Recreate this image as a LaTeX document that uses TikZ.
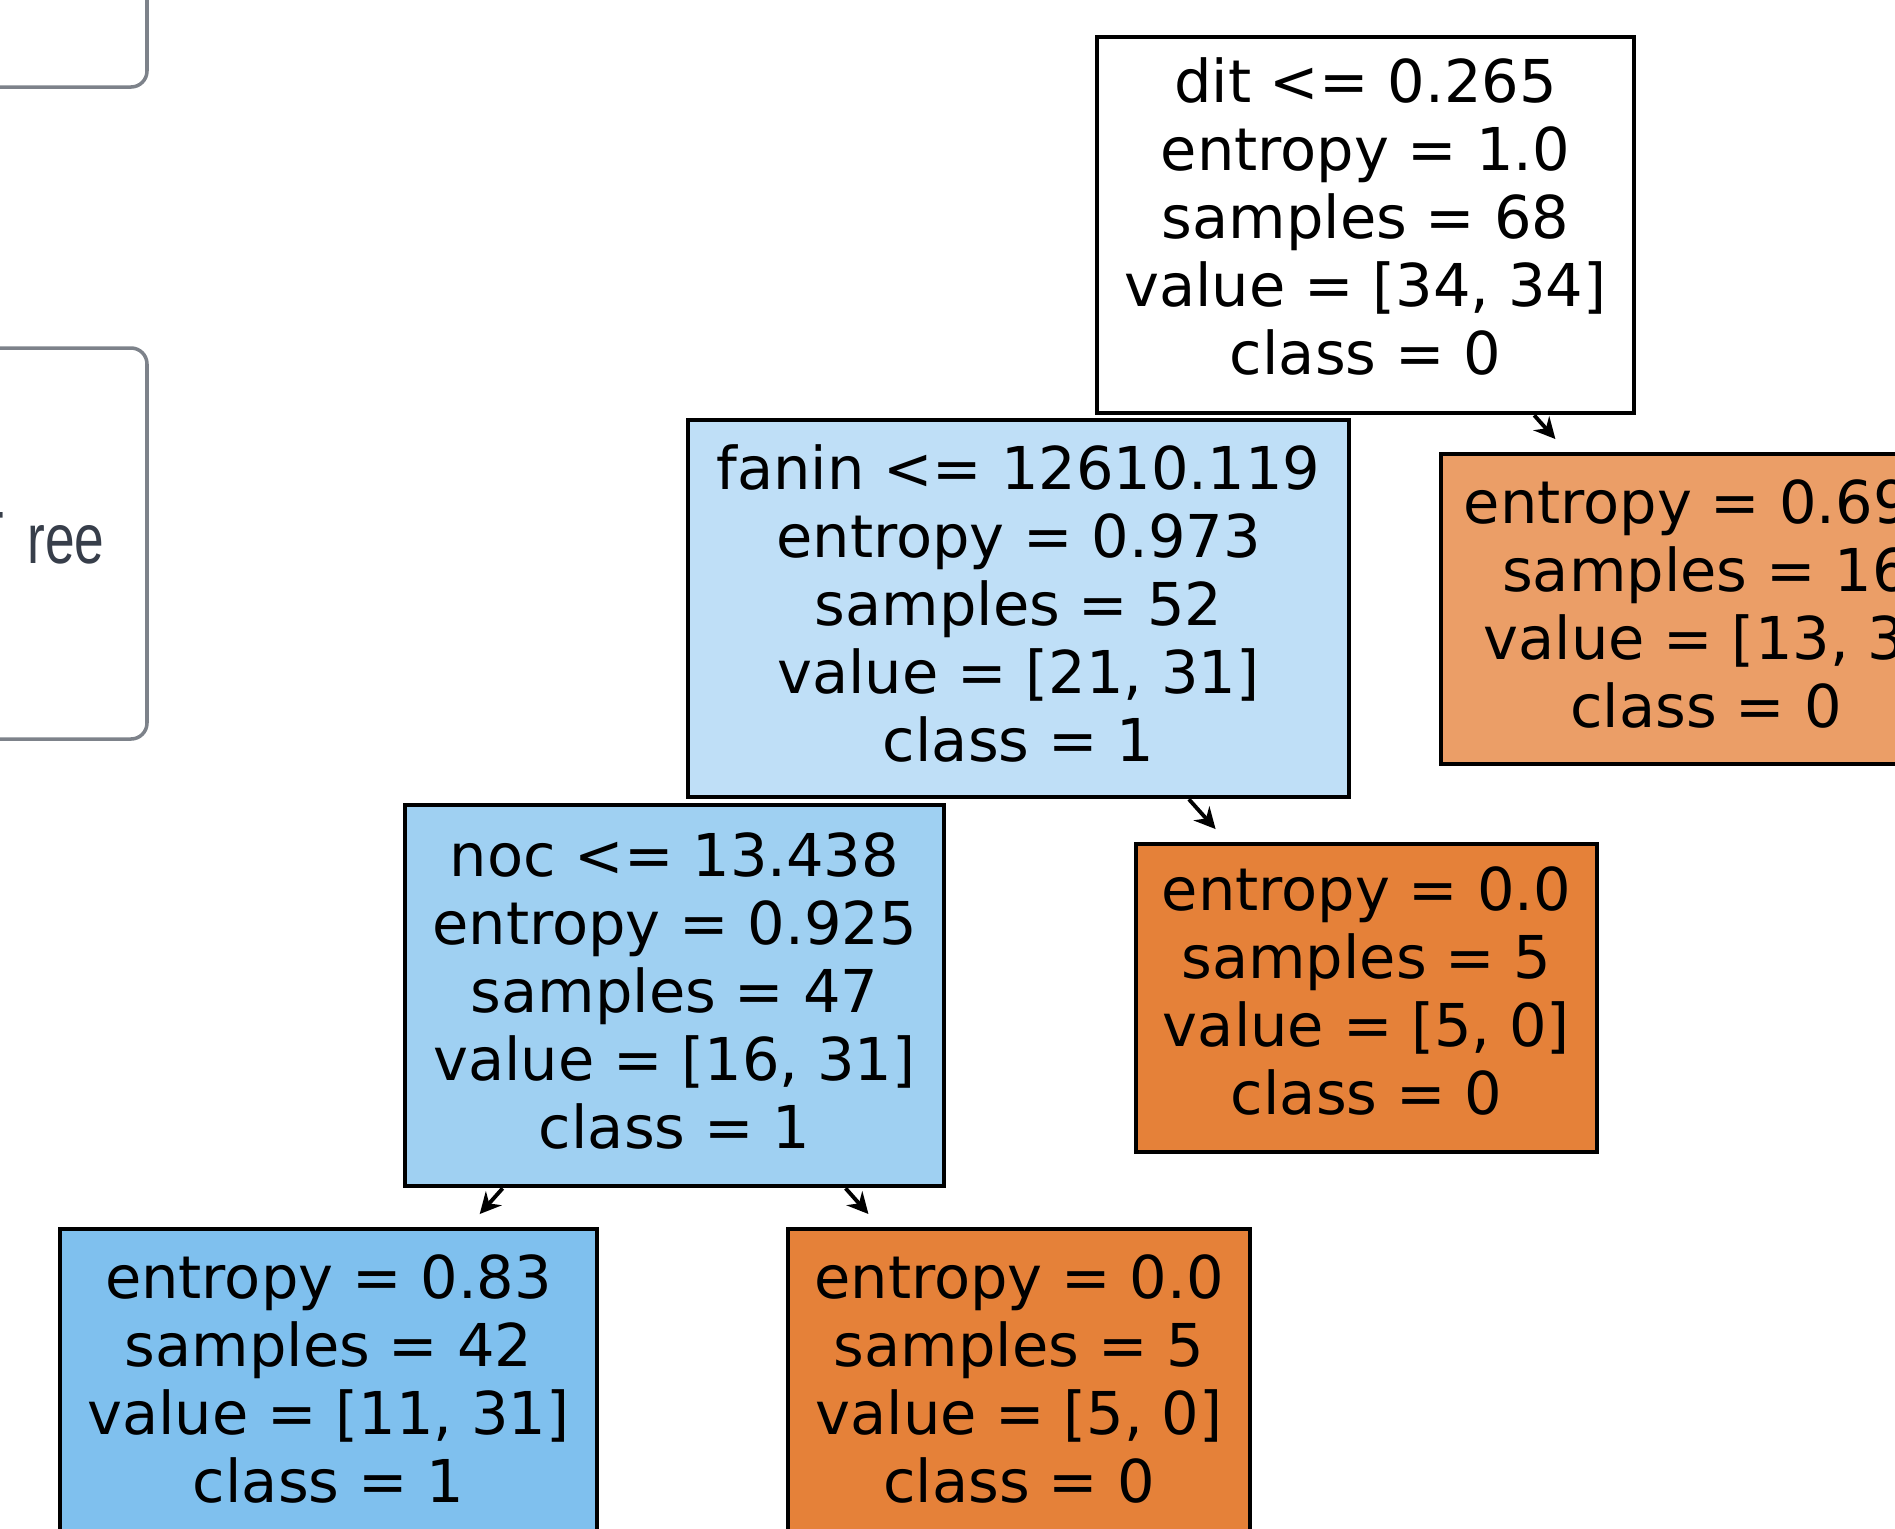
\documentclass[tikz,border=0pt]{standalone}
\usepackage{fontspec}
\usepackage{xcolor}
\usepackage{graphicx}
\usepackage{tikz}
\usetikzlibrary{arrows.meta}

\newfontfamily\treefont{DejaVu Sans}
\newfontfamily\uifont{Liberation Sans}

\definecolor{blueA}{RGB}{191,223,247}
\definecolor{blueB}{RGB}{159,208,242}
\definecolor{blueC}{RGB}{127,192,238}
\definecolor{orangeA}{RGB}{235,158,103}
\definecolor{orangeB}{RGB}{229,129,57}
\definecolor{uigray}{RGB}{125,130,138}
\definecolor{uitext}{RGB}{55,62,74}

\begin{document}
\begin{tikzpicture}[>=latex,
    treenode/.style={draw=black, line width=1.3pt, align=center, inner sep=0pt,
        font=\treefont\fontsize{16.8}{19.35}\selectfont,
        execute at end node={\rule[-1mm]{0pt}{1mm}}},
    leafnode/.style={treenode, minimum height=3.1cm},
    treearrow/.style={-{Stealth[length=6pt,width=6pt]}, line width=1.1pt, shorten >=0.17cm},
    uibox/.style={draw=uigray, line width=1pt, rounded corners=0.16cm}]
                % 1. Khung hình
                \useasboundingbox (0,0) rectangle (18.95,-15.29);
                \clip (0,0) rectangle (18.95,-15.29);
                
                % 2. Các khung bên trái
                \node[uibox, minimum width=2.97cm, minimum height=1.37cm] (uitop) at (-0.015,-0.185) {};
                \node[uibox, minimum width=2.97cm, minimum height=3.91cm] (uimid) at (-0.015,-5.435) {};
                \node[anchor=base east, text=uitext, inner sep=0pt, font=\uifont] (uilabel) at (1.05,-5.63)
                    {\makebox[0pt][r]{\resizebox{!}{0.51cm}{T}\hspace{0.23cm}}\resizebox{0.77cm}{0.38cm}{ree}};
                
                % 3. Các nút của cây
                \node[treenode, fill=white, minimum width=5.37cm, minimum height=3.76cm,
                    execute at end node={\rule[-1.7mm]{0pt}{1.7mm}}] (root) at (13.655,-2.25)
                    {dit <= 0.265\\ entropy = 1.0\\ samples = 68\\ value = [34, 34]\\ class = 0};
                \node[treenode, fill=blueA, minimum width=6.61cm, minimum height=3.77cm] (fanin) at (10.185,-6.085)
                    {fanin <= 12610.119\\ entropy = 0.973\\ samples = 52\\ value = [21, 31]\\ class = 1};
                \node[leafnode, fill=orangeA, minimum width=5.30cm] (rightleaf) at (17.06,-6.09)
                    {entropy = 0.696\\ samples = 16\\ value = [13, 3]\\ class = 0};
                \node[treenode, fill=blueB, minimum width=5.39cm, minimum height=3.81cm] (noc) at (6.745,-9.955)
                    {noc <= 13.438\\ entropy = 0.925\\ samples = 47\\ value = [16, 31]\\ class = 1};
                \node[leafnode, fill=orangeB, minimum width=4.61cm, minimum height=3.08cm,
                    execute at end node={\rule[-1.5mm]{0pt}{1.5mm}}] (faninleaf) at (13.665,-9.98)
                    {entropy = 0.0\\ samples = 5\\ value = [5, 0]\\ class = 0};
                \node[leafnode, fill=blueC, minimum width=5.37cm] (nocleft) at (3.285,-13.84)
                    {entropy = 0.83\\ samples = 42\\ value = [11, 31]\\ class = 1};
                \node[leafnode, fill=orangeB, minimum width=4.62cm] (nocright) at (10.19,-13.84)
                    {entropy = 0.0\\ samples = 5\\ value = [5, 0]\\ class = 0};
                
                % 4. Mũi tên
                \draw[treearrow] (root) -- (rightleaf);
                \draw[treearrow] (fanin) -- (faninleaf);
                \draw[treearrow] (noc) -- (nocleft);
                \draw[treearrow] (noc) -- (nocright);
            \end{tikzpicture}
\end{document}
